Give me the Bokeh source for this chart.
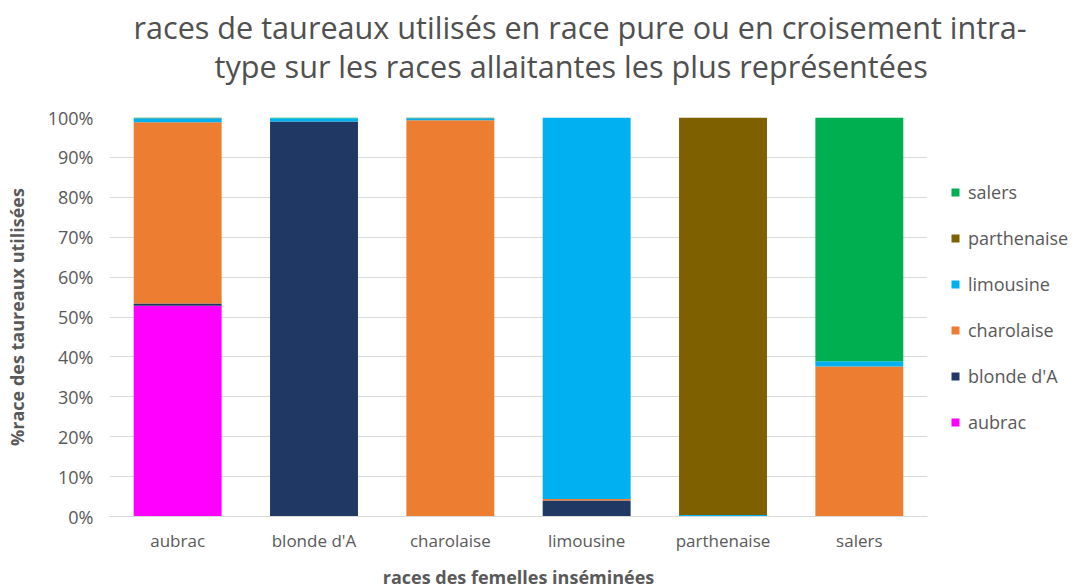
from bokeh.plotting import figure
from bokeh.models import (FactorRange, Range1d, Legend, LegendItem, Title,
                          NumeralTickFormatter, FixedTicker)
from bokeh.embed import file_html
from bokeh.resources import INLINE

categories = ["aubrac", "blonde d'A", "charolaise", "limousine", "parthenaise", "salers"]
series = ["aubrac", "blonde d'A", "charolaise", "limousine", "parthenaise", "salers"]
colors = ["#FF00FF", "#1F3864", "#ED7D31", "#00B0F0", "#7F6000", "#00B050"]

aubrac      = [0.528, 0.000, 0.000, 0.000, 0.000, 0.000]
blonde      = [0.006, 0.990, 0.000, 0.040, 0.000, 0.000]
charolaise  = [0.454, 0.000, 0.993, 0.004, 0.000, 0.376]
limousine   = [0.010, 0.008, 0.005, 0.956, 0.004, 0.013]
parthenaise = [0.001, 0.000, 0.001, 0.000, 0.996, 0.000]
salers      = [0.001, 0.002, 0.001, 0.000, 0.000, 0.611]

y_ticks = [0, 0.1, 0.2, 0.3, 0.4, 0.5, 0.6, 0.7, 0.8, 0.9, 1.0]

title_line1 = "races de taureaux utilisés en race pure ou en croisement intra-"
title_line2 = "type sur les races allaitantes les plus représentées"
x_label = "races des femelles inséminées"
y_label = "%race des taureaux utilisées"

data = {"cat": categories, "aubrac": aubrac, "blonde d'A": blonde,
        "charolaise": charolaise, "limousine": limousine,
        "parthenaise": parthenaise, "salers": salers}

FONT = "Open Sans"
GREY = "#595959"

p = figure(x_range=FactorRange(*categories), y_range=Range1d(0, 1.0),
           frame_width=818, frame_height=399, title=None,
           min_border_left=109, min_border_right=148, min_border_top=117,
           min_border_bottom=71, output_backend="svg", toolbar_location=None,
           outline_line_color=None, background_fill_color="white")

rs = p.vbar_stack(series, x="cat", width=0.645, color=colors, source=data,
                  line_color=None)

p.x_range.range_padding = 0.0
p.xaxis.axis_line_color = "#D9D9D9"
p.xaxis.major_tick_line_color = None
p.xaxis.minor_tick_line_color = None
p.xaxis.major_tick_out = 0
p.xaxis.major_tick_in = 0
p.xaxis.major_label_text_font = FONT
p.xaxis.major_label_text_font_size = "17px"
p.xaxis.major_label_text_color = GREY
p.xaxis.major_label_standoff = 12
p.xaxis.axis_label = x_label
p.xaxis.axis_label_text_font = FONT
p.xaxis.axis_label_text_font_size = "18px"
p.xaxis.axis_label_text_font_style = "bold"
p.xaxis.axis_label_text_color = GREY
p.xaxis.axis_label_standoff = 10

p.yaxis.ticker = FixedTicker(ticks=y_ticks)
p.yaxis.formatter = NumeralTickFormatter(format="0%")
p.yaxis.axis_line_color = None
p.yaxis.major_tick_line_color = None
p.yaxis.minor_tick_line_color = None
p.yaxis.major_tick_out = 0
p.yaxis.major_tick_in = 0
p.yaxis.major_label_text_font = FONT
p.yaxis.major_label_text_font_size = "18px"
p.yaxis.major_label_text_color = GREY
p.yaxis.major_label_standoff = 16
p.yaxis.axis_label = y_label
p.yaxis.axis_label_text_font = FONT
p.yaxis.axis_label_text_font_size = "18px"
p.yaxis.axis_label_text_font_style = "bold"
p.yaxis.axis_label_text_color = GREY
p.yaxis.axis_label_standoff = 16

p.xgrid.grid_line_color = None
p.ygrid.grid_line_color = "#D9D9D9"
p.ygrid.grid_line_width = 1

items = [LegendItem(label=s, renderers=[r]) for s, r in zip(series, rs)][::-1]
legend = Legend(items=items, location=(23, 82), padding=0, margin=0,
                border_line_color=None, background_fill_alpha=0,
                glyph_width=10, glyph_height=10, label_height=20,
                spacing=22, label_standoff=8,
                label_text_font=FONT, label_text_font_size="18px",
                label_text_color=GREY)
p.add_layout(legend, "right")

# spacer between the frame and the two title lines
p.add_layout(Title(text=" ", text_font_size="1px", standoff=28), "above")
p.add_layout(Title(text=title_line2, align="left", offset=105, standoff=0,
                   text_font=FONT, text_font_size="30.6px", text_font_style="normal",
                   text_color="#505050"), "above")
p.add_layout(Title(text=title_line1, align="left", offset=24, standoff=-10,
                   text_font=FONT, text_font_size="30.6px", text_font_style="normal",
                   text_color="#505050"), "above")

open("out.html", "w").write(file_html(p, INLINE))
